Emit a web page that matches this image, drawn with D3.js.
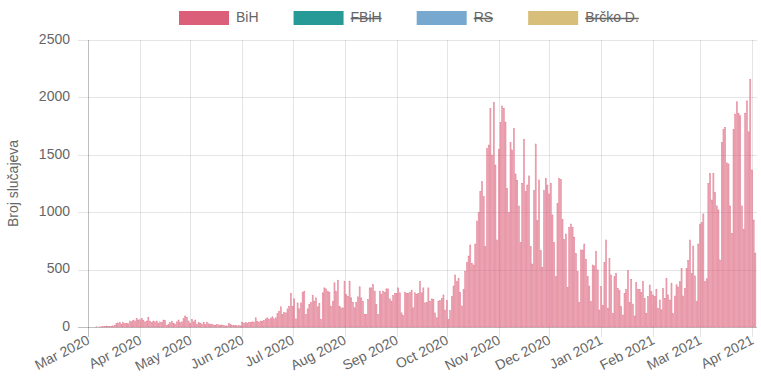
<!DOCTYPE html>
<html><head><meta charset="utf-8">
<script src="https://cdn.jsdelivr.net/npm/d3@7/dist/d3.min.js"></script>
<style>
body{margin:0;background:#fff}
svg{display:block}
text{font-family:"Liberation Sans",Arial,Helvetica,sans-serif;fill:#666}
</style>
</head><body>
<svg id="chart" width="761" height="380"></svg>
<script>
// ---- data ----
const startDate = "2020-03-01";
const bihCases = [
0,0,0,0,0,2,0,1,2,4,3,8,5,6,6,10,15,30,35,38,25,38,30,32,28,52,45,60,52,73,61,63,73,60,
45,52,84,52,38,52,45,52,32,45,38,61,55,15,25,38,50,32,25,45,61,38,45,73,96,84,52,32,67,45,61,25,38,32,25,38,
20,42,28,20,25,18,15,20,18,15,18,12,8,10,30,22,15,15,12,10,12,10,42,30,38,32,42,38,45,42,80,48,42,52,
51,57,71,80,65,77,89,71,80,118,138,176,109,129,123,158,181,292,181,245,71,210,158,210,303,312,109,158,196,216,274,225,254,176,205,65,
298,341,332,
312,303,181,225,385,312,408,181,167,167,399,283,269,399,254,216,167,216,263,350,254,225,109,109,240,341,341,370,312,196,109,312,283,312,303,332,
332,245,225,274,292,292,341,298,123,100,303,292,292,303,321,167,298,283,292,399,298,341,210,216,341,225,245,240,123,80,225,
229,250,279,148,229,67,142,264,357,453,395,424,299,183,328,482,560,618,714,554,540,723,923,996,1179,1266,1135,700,1556,1585,1905,1498,
1954,1411,758,1548,1780,1925,1905,1785,1208,996,1606,1542,1727,1333,1275,1054,734,1252,1635,1179,1237,1316,700,549,1188,1594,926,1281,665,520,1188,1295,1237,1159,1252,976,
735,438,1077,1295,1286,938,764,810,346,868,897,868,781,642,482,212,671,671,723,590,438,357,221,540,532,656,497,148,352,186,
560,758,163,598,453,119,439,467,337,316,177,104,293,328,491,212,415,200,96,386,328,328,299,395,250,119,264,366,308,279,264,328,163,
235,150,336,250,424,280,235,380,116,270,368,350,395,511,270,336,511,578,758,468,705,445,220,723,897,909,985,395,420,1251,1338,
1106,1338,1170,1055,1020,584,1606,1720,1740,1430,1420,1055,816,1720,1855,1962,1860,1840,1055,850,1860,1970,1700,2157,1368,932,644
];
const seriesNames = ["BiH", "FBiH", "RS", "Brčko D."];
const seriesColors = ["#dc5f79", "#279a98", "#76a8d0", "#d7be7a"];
const seriesHidden = [false, true, true, true];
const yTicks = [0, 500, 1000, 1500, 2000, 2500];
const xTickLabels = ["Mar 2020","Apr 2020","May 2020","Jun 2020","Jul 2020","Aug 2020","Sep 2020","Oct 2020","Nov 2020","Dec 2020","Jan 2021","Feb 2021","Mar 2021","Apr 2021"];
const yTitle = "Broj slučajeva";

// ---- layout ----
const svg = d3.select("#chart");
const pL = 88, pR = 757, pT = 40, pB = 327;
const parse = d3.timeParse("%Y-%m-%d");
const t0 = parse(startDate);
const dates = bihCases.map((_, i) => d3.timeDay.offset(t0, i));
const x = d3.scaleTime()
  .domain([t0, d3.timeDay.offset(t0, bihCases.length)])
  .range([pL, pR]);
const y = d3.scaleLinear().domain([0, 2500]).range([pB, pT]);
const tickDates = xTickLabels.map(s => d3.timeParse("%b %Y")(s));

// grid
const grid = svg.append("g");
grid.selectAll("line.h").data(yTicks).join("line")
  .attr("x1", pL - 10).attr("x2", pR)
  .attr("y1", d => Math.round(y(d)) + 0.5).attr("y2", d => Math.round(y(d)) + 0.5)
  .attr("stroke", d => d === 0 ? "rgba(0,0,0,0.25)" : "rgba(0,0,0,0.1)").attr("stroke-width", 1);
grid.selectAll("line.v").data(tickDates).join("line")
  .attr("x1", d => Math.round(x(d)) + 0.5).attr("x2", d => Math.round(x(d)) + 0.5)
  .attr("y1", pT).attr("y2", pB + 10)
  .attr("stroke", (d, i) => i === 0 ? "rgba(0,0,0,0.25)" : "rgba(0,0,0,0.1)").attr("stroke-width", 1);

// bars
const dayW = x(dates[1]) - x(dates[0]);
const bw = dayW * 0.62;
svg.append("g").selectAll("rect").data(bihCases).join("rect")
  .attr("x", (d, i) => x(dates[i]) - bw / 2)
  .attr("y", d => y(d))
  .attr("width", bw)
  .attr("height", d => pB - y(d))
  .attr("fill", "rgba(220,95,121,0.45)")
  .attr("stroke", "rgba(220,95,121,0.8)")
  .attr("stroke-width", 0.5);

// y axis labels
svg.append("g").selectAll("text").data(yTicks).join("text")
  .attr("x", 70).attr("y", d => y(d))
  .attr("text-anchor", "end").attr("dominant-baseline", "middle")
  .attr("font-size", 14).text(d => d);

// x axis labels
svg.append("g").selectAll("text").data(tickDates).join("text")
  .attr("transform", d => `translate(${x(d) + 1},${pB + 13}) rotate(-27)`)
  .attr("text-anchor", "end").attr("dominant-baseline", "middle")
  .attr("font-size", 14).text((d, i) => xTickLabels[i]);

// y title
svg.append("text")
  .attr("transform", `translate(18,${(pT + pB) / 2}) rotate(-90)`)
  .attr("text-anchor", "middle").attr("font-size", 14).text(yTitle);

// legend
const legend = svg.append("g");
let lx = 179;
seriesNames.forEach((name, i) => {
  const g = legend.append("g");
  g.append("rect").attr("x", lx).attr("y", 11).attr("width", 50).attr("height", 14)
    .attr("fill", seriesColors[i]);
  const t = g.append("text").attr("x", lx + 57).attr("y", 18)
    .attr("dominant-baseline", "middle").attr("font-size", 14).text(name);
  const w = t.node().getComputedTextLength();
  if (seriesHidden[i]) {
    g.append("line").attr("x1", lx + 57).attr("x2", lx + 57 + w)
      .attr("y1", 18.5).attr("y2", 18.5).attr("stroke", "#666").attr("stroke-width", 1.5);
  }
  lx += 57 + w + 35;
});
</script>
</body></html>
